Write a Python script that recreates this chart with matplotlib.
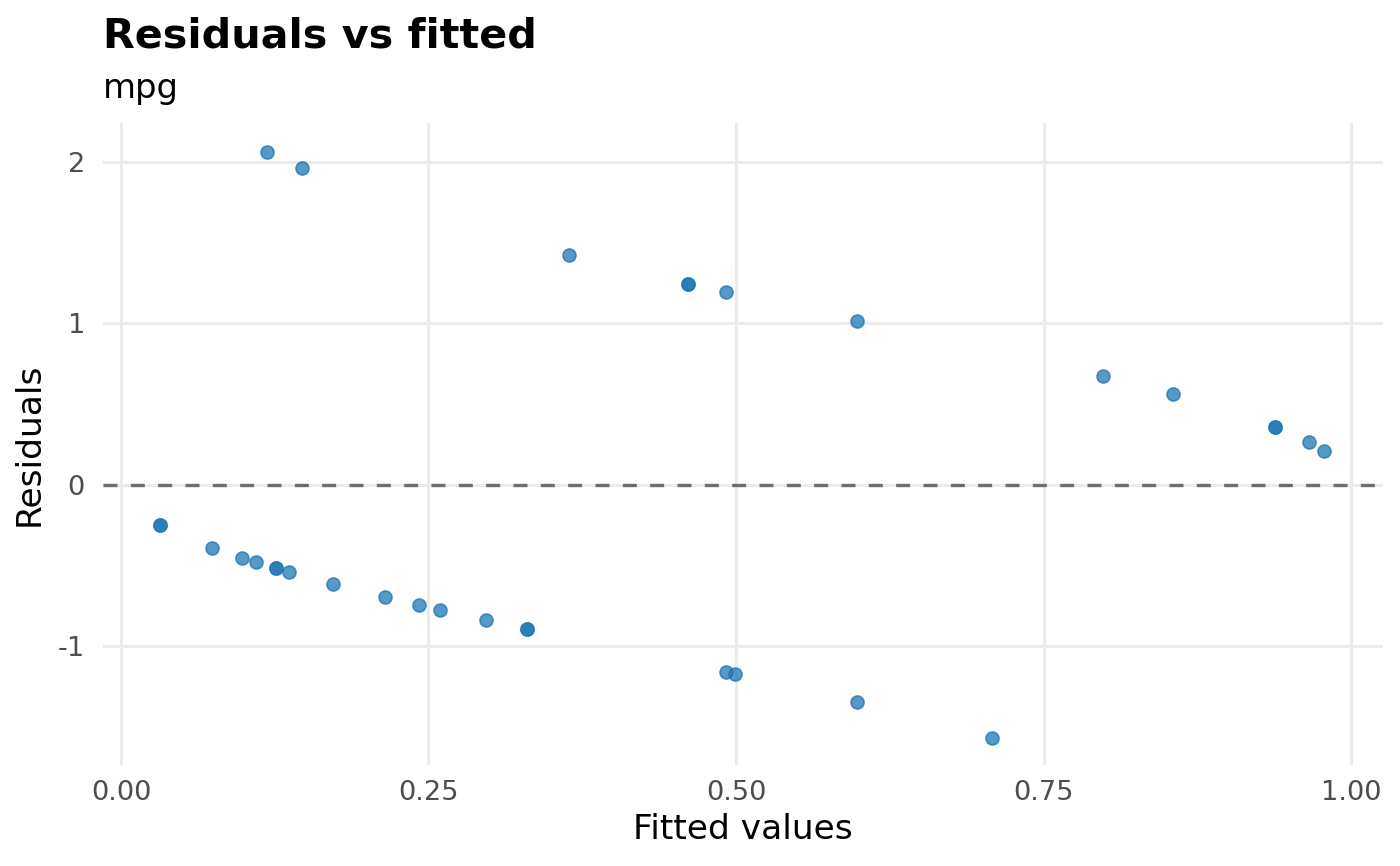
import matplotlib.pyplot as plt
import numpy as np

# fitted values and residuals (duplicates are listed twice)
fitted = [0.119, 0.147, 0.364, 0.461, 0.461, 0.492, 0.598, 0.798, 0.855, 0.938, 0.938,
          0.966, 0.978, 0.032, 0.032, 0.074, 0.098, 0.110, 0.126, 0.126, 0.137, 0.172,
          0.215, 0.242, 0.259, 0.297, 0.330, 0.330, 0.492, 0.499, 0.598, 0.708]
residuals = [2.062, 1.963, 1.424, 1.245, 1.245, 1.195, 1.015, 0.675, 0.563, 0.359, 0.359,
             0.266, 0.211, -0.248, -0.248, -0.390, -0.452, -0.477, -0.514, -0.514, -0.539, -0.613,
             -0.693, -0.743, -0.774, -0.836, -0.892, -0.892, -1.158, -1.170, -1.344, -1.567]

xticks = [0.0, 0.25, 0.5, 0.75, 1.0]
xticklabels = ["0.00", "0.25", "0.50", "0.75", "1.00"]
yticks = [-1, 0, 1, 2]
yticklabels = ["-1", "0", "1", "2"]

plt.rcParams['font.family'] = ['DejaVu Sans']

fig = plt.figure(figsize=(7, 4.33), dpi=200)
ax = fig.add_axes([103 / 1400, 1 - 765 / 866, (1383 - 103) / 1400, (765 - 123) / 866])

ax.set_xlim(-0.0146, 1.026)
ax.set_ylim(-1.734, 2.241)

ax.grid(True, color="#EBEBEB", linewidth=1.1)
ax.set_axisbelow(True)
for s in ax.spines.values():
    s.set_visible(False)

ax.axhline(0, color="#6E6E6E", linewidth=1.2, linestyle=(0, (4.2, 4.0)), zorder=2)

ax.scatter(fitted, residuals, s=22, color="#1f77b4", edgecolor="#1f77b4",
           linewidth=0.6, alpha=0.75, zorder=3)

ax.set_xticks(xticks)
ax.set_xticklabels(xticklabels)
ax.set_yticks(yticks)
ax.set_yticklabels(yticklabels)
ax.tick_params(length=0, labelsize=9.8, labelcolor="#4D4D4D", pad=5.5)
ax.tick_params(axis="y", pad=6.5)

ax.set_xlabel("Fitted values", fontsize=12.4, labelpad=2.5)
ax.set_ylabel("Residuals", fontsize=12.4, labelpad=4.2)

fig.text(103 / 1400, 1 - 48 / 866, "Residuals vs fitted", fontsize=14.85,
         fontweight="bold", va="baseline", ha="left")
fig.text(103 / 1400, 1 - 98 / 866, "mpg", fontsize=12.2, va="baseline", ha="left")

fig.savefig("out.png", dpi=200)
